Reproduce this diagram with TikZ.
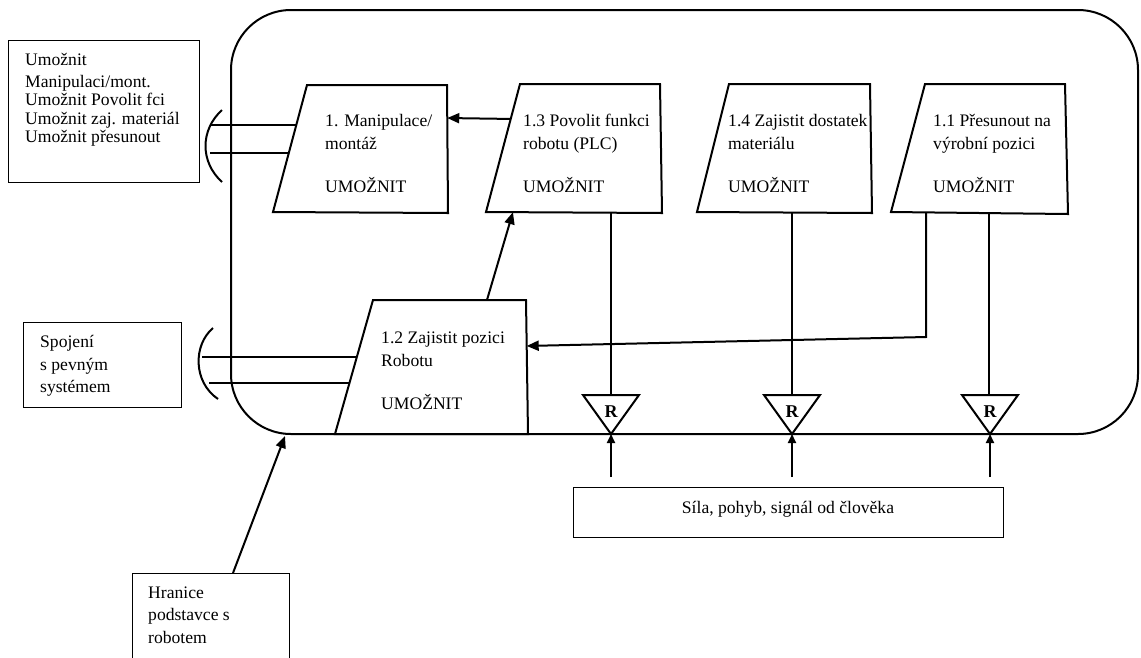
\documentclass[tikz,border=0pt]{standalone}
\usepackage{fontspec}
\setmainfont{Liberation Serif}
\usetikzlibrary{arrows.meta,calc}
\begin{document}
\begin{tikzpicture}[x=1pt,y=-1pt,
  fbox/.style={line width=2pt, line join=miter},
  tbox/.style={draw, line width=1.3pt, anchor=north west, inner sep=0pt},
  lbl/.style={anchor=base west, inner sep=0pt, font=\fontsize{17.6}{23}\selectfont},
  conn/.style={line width=2pt},
  arr/.style={conn, -{Triangle[length=12pt,width=10pt]}},
  sarr/.style={conn, -{Triangle[length=9pt,width=8pt]}},
  rlbl/.style={inner sep=0pt, font=\fontsize{18}{20}\selectfont\bfseries},
]
\useasboundingbox (0,0) rectangle (1141,657);
\fill[white] (0,0) rectangle (1141,657);

% system boundary
\draw[line width=2pt, rounded corners=60pt] (231,10) rectangle (1138,434);

% external text boxes
\node[tbox, minimum width=191pt, minimum height=142pt] (lbox) at (8,40) {};
\node[lbl] at (25,65) {Umožnit};
\node[lbl] at (25,87) {Manipulaci/mont.};
\node[lbl] at (25,105.5) {Umožnit Povolit fci};
\node[lbl] at (25,124) {Umožnit zaj. materiál};
\node[lbl] at (25,142.5) {Umožnit přesunout};

\node[tbox, minimum width=158pt, minimum height=85pt] (sbox) at (23,322) {};
\node[lbl] at (40,347) {Spojení};
\node[lbl] at (40,370) {s pevným};
\node[lbl] at (40,392) {systémem};

\node[tbox, minimum width=157pt, minimum height=110pt] (hbox) at (132,573) {};
\node[lbl] at (148,598) {Hranice};
\node[lbl] at (148,620) {podstavce s};
\node[lbl] at (148,643) {robotem};

\node[tbox, minimum width=430pt, minimum height=50pt] (fbox) at (573,487) {};
\node[lbl, anchor=base] at (788,513) {Síla, pohyb, signál od člověka};

% trapezoid corners
\coordinate (b1tl) at (307,85);  \coordinate (b1tr) at (447,85);
\coordinate (b1br) at (448,213); \coordinate (b1bl) at (273,212);
\coordinate (b13tl) at (520,84);  \coordinate (b13tr) at (660,84);
\coordinate (b13br) at (662,213); \coordinate (b13bl) at (486,212);
\coordinate (b14tl) at (729,84);  \coordinate (b14tr) at (870,84);
\coordinate (b14br) at (872,213); \coordinate (b14bl) at (697,212);
\coordinate (b11tl) at (925,84);  \coordinate (b11tr) at (1065,84);
\coordinate (b11br) at (1068,214); \coordinate (b11bl) at (891,212);
\coordinate (b12tl) at (373,300);  \coordinate (b12tr) at (526,300);
\coordinate (b12br) at (528,434);  \coordinate (b12bl) at (335,434);

\foreach \b in {b1,b13,b14,b11,b12}{
  \draw[fbox] (\b tl) -- (\b tr) -- (\b br) -- (\b bl) -- cycle;
}

% trapezoid texts
\node[lbl] at (325,126) {1. Manipulace/};
\node[lbl] at (325,149) {montáž};
\node[lbl] at (325,192) {UMOŽNIT};
\node[lbl] at (523,126) {1.3 Povolit funkci};
\node[lbl] at (523,149) {robotu (PLC)};
\node[lbl] at (523,192) {UMOŽNIT};
\node[lbl] at (728,126) {1.4 Zajistit dostatek};
\node[lbl] at (728,149) {materiálu};
\node[lbl] at (728,192) {UMOŽNIT};
\node[lbl] at (933,126) {1.1 Přesunout na};
\node[lbl] at (933,149) {výrobní pozici};
\node[lbl] at (933,192) {UMOŽNIT};
\node[lbl] at (381,343) {1.2 Zajistit pozici};
\node[lbl] at (381,366) {Robotu};
\node[lbl] at (381,409) {UMOŽNIT};

% interface arcs and lines
\coordinate (a1s) at (222,110); \coordinate (a1e) at (222,182);
\draw[conn] (a1s) .. controls (200,130) and (200,162) .. (a1e);
\coordinate (e1) at ($(b1tl)!0.315!(b1bl)$);
\coordinate (e2) at ($(b1tl)!0.535!(b1bl)$);
\draw[conn] (210,0 |- e1) -- (e1);
\draw[conn] (210,0 |- e2) -- (e2);

\coordinate (a2s) at (213,328); \coordinate (a2e) at (218,399);
\draw[conn] (a2s) .. controls (193,345) and (193,382) .. (a2e);
\coordinate (e3) at ($(b12tl)!0.425!(b12bl)$);
\coordinate (e4) at ($(b12tl)!0.62!(b12bl)$);
\draw[conn] (202,0 |- e3) -- (e3);
\draw[conn] (209,0 |- e4) -- (e4);

% internal arrows
\draw[arr] ($(b13tl)!0.273!(b13bl)$) -- ($(b1tr)!0.258!(b1br)$);
\draw[arr] ($(b12tl)!0.745!(b12tr)$) -- ($(b13bl)!0.153!(b13br)$);
\coordinate (s11) at ($(b11bl)!0.198!(b11br)$);
\coordinate (k11) at (s11 |- 0,337);
\draw[arr] (s11) -- (k11) -- ($(b12tr)!0.343!(b12br)$);

% R triangles
\foreach \n/\x in {t1/611,t2/792,t3/990}{
  \coordinate (\n top) at (\x,395);
  \coordinate (\n tip) at (\x,434);
  \draw[fbox] (\x-28,395) -- (\x+28,395) -- (\n tip) -- cycle;
  \node[rlbl] at (\x,412) {R};
  \coordinate (\n in) at (\x,477);
  \draw[sarr] (\n in) -- (\n tip);
}
\draw[conn] (t1top |- b13bl) -- (t1top);
\draw[conn] (t2top |- b14bl) -- (t2top);
\draw[conn] (989,0 |- b11br) -- (989,395);

% boundary arrow
\draw[arr] (233,573) -- (285,436);
\end{tikzpicture}
\end{document}
